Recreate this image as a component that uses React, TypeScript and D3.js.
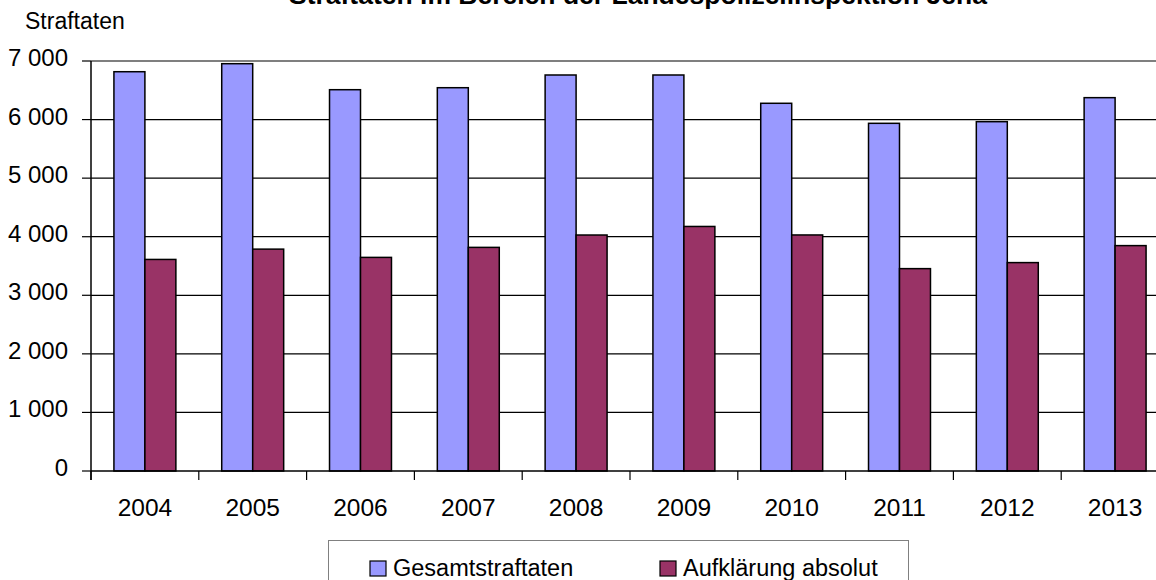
import React, { useEffect, useRef } from 'react';
import * as d3 from 'd3';

const years = ['2004', '2005', '2006', '2007', '2008', '2009', '2010', '2011', '2012', '2013'];
const gesamt = [6817, 6954, 6510, 6544, 6761, 6761, 6278, 5936, 5964, 6374];
const aufklaerung = [3612, 3788, 3647, 3818, 4029, 4175, 4030, 3455, 3558, 3848];
const seriesNames = ['Gesamtstraftaten', 'Aufklärung absolut'];
const seriesColors = ['#9999FF', '#993366'];
const yTicks = [0, 1000, 2000, 3000, 4000, 5000, 6000, 7000];

const W = 1156, H = 580;
const FONT = '"Liberation Sans", Arial, sans-serif';

const App = () => {
  const ref = useRef<SVGSVGElement>(null);

  useEffect(() => {
    if (!ref.current) return;
    const svg = d3.select(ref.current);
    svg.selectAll('*').remove();

    const left = 91, top = 61, bottom = 471, right = 1169;

    const x = d3.scaleBand().domain(years).range([left, right]).paddingInner(0).paddingOuter(0);
    const xs = d3.scaleBand().domain(['g', 'a']).range([0, x.bandwidth()]).paddingInner(0).paddingOuter(0.74);
    const y = d3.scaleLinear().domain([0, 7000]).range([bottom, top]);

    const txt = (g: any, px: number, py: number, s: string, anchor: string, size = 24, weight = 'normal') =>
      g.append('text')
        .attr('x', px)
        .attr('y', py)
        .attr('text-anchor', anchor)
        .attr('font-family', FONT)
        .attr('font-size', size)
        .attr('font-weight', weight)
        .attr('fill', '#000')
        .text(s);

    // title (cut off at the top in the source)
    txt(svg, 638, 4, 'Straftaten im Bereich der Landespolizeiinspektion Jena', 'middle', 26.5, 'bold');
    txt(svg, 25, 29, 'Straftaten', 'start', 23);

    // gridlines
    svg.append('g')
      .selectAll('line')
      .data(yTicks.filter(d => d > 0))
      .enter().append('line')
      .attr('x1', left).attr('x2', right)
      .attr('y1', d => y(d)).attr('y2', d => y(d))
      .attr('stroke', '#000').attr('stroke-width', 1.2);

    // bars
    const data = years.map((yr, i) => ({ yr, g: gesamt[i], a: aufklaerung[i] }));
    const grp = svg.append('g').selectAll('g').data(data).enter().append('g')
      .attr('transform', d => `translate(${x(d.yr)},0)`);
    (['g', 'a'] as const).forEach((k, si) => {
      grp.append('rect')
        .attr('x', xs(k)!)
        .attr('y', d => y(d[k]))
        .attr('width', xs.bandwidth())
        .attr('height', d => y(0) - y(d[k]))
        .attr('fill', seriesColors[si])
        .attr('stroke', '#000')
        .attr('stroke-width', 1.5);
    });

    // y axis
    const ya = svg.append('g');
    ya.append('line').attr('x1', left).attr('x2', left).attr('y1', top).attr('y2', bottom + 9)
      .attr('stroke', '#000').attr('stroke-width', 1.5);
    yTicks.forEach(t => {
      ya.append('line').attr('x1', left - 9).attr('x2', left).attr('y1', y(t)).attr('y2', y(t))
        .attr('stroke', '#000').attr('stroke-width', 1.2);
      txt(ya, 68, y(t) + 5, d3.format(',')(t).replace(/,/g, ' '), 'end', 24);
    });

    // x axis
    const xa = svg.append('g');
    xa.append('line').attr('x1', left).attr('x2', right).attr('y1', bottom).attr('y2', bottom)
      .attr('stroke', '#000').attr('stroke-width', 1.5);
    years.forEach(yr => {
      const bx = x(yr)!;
      xa.append('line').attr('x1', bx).attr('x2', bx).attr('y1', bottom).attr('y2', bottom + 9)
        .attr('stroke', '#000').attr('stroke-width', 1.2);
      txt(xa, bx + x.bandwidth() / 2, 516, yr, 'middle', 24.5);
    });

    // legend
    const lg = svg.append('g');
    lg.append('rect').attr('x', 328.5).attr('y', 540.5).attr('width', 580).attr('height', 60)
      .attr('fill', '#fff').attr('stroke', '#808080').attr('stroke-width', 1);
    const lx = [370, 660];
    seriesNames.forEach((n, i) => {
      lg.append('rect').attr('x', lx[i]).attr('y', 561).attr('width', 16).attr('height', 15)
        .attr('fill', seriesColors[i]).attr('stroke', '#000').attr('stroke-width', 1.2);
      txt(lg, lx[i] + 23, 576, n, 'start', 23.5);
    });
  }, []);

  return (
    <svg ref={ref} width={W} height={H}
      style={{ position: 'absolute', left: 0, top: 0, background: '#fff' }} />
  );
};

export default App;
